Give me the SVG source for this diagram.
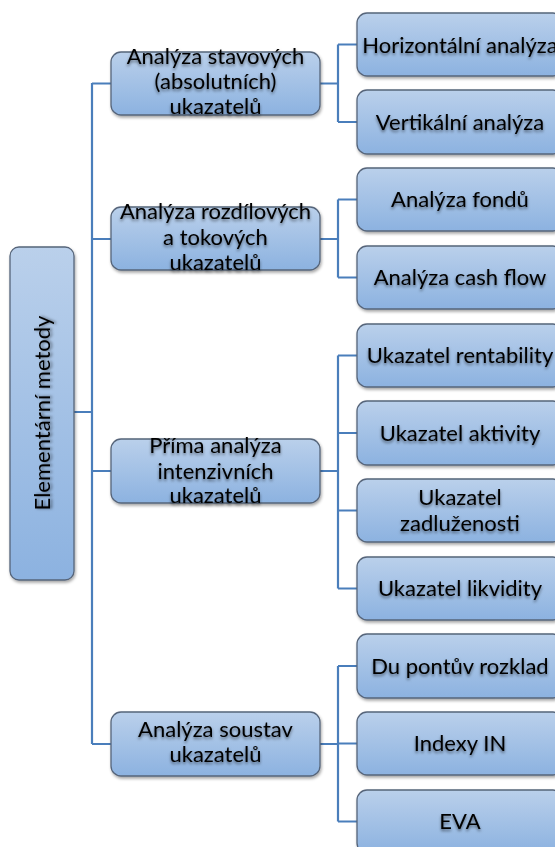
<svg xmlns="http://www.w3.org/2000/svg" width="555" height="847" viewBox="0 0 555 847">
<defs>
<linearGradient id="g" x1="0" y1="0" x2="0" y2="1">
<stop offset="0" stop-color="#bad0eb"/>
<stop offset="1" stop-color="#8cb2e0"/>
</linearGradient>
<filter id="bs" x="-10%" y="-10%" width="125%" height="130%">
<feDropShadow dx="1" dy="2" stdDeviation="1.5" flood-color="#000" flood-opacity="0.35"/>
</filter>
<filter id="ts" x="-10%" y="-20%" width="120%" height="160%">
<feDropShadow dx="0" dy="2" stdDeviation="1.4" flood-color="#000" flood-opacity="0.5"/>
</filter>
</defs>
<style>
.box{fill:url(#g);stroke:#56657a;stroke-width:1.3;filter:url(#bs)}
.t{font-family:Lato,"Liberation Sans",sans-serif;font-size:22px;fill:#000;text-anchor:middle;filter:url(#ts)}
.c{fill:none;stroke:#4a7ebb;stroke-width:2.2}
</style>
<rect width="555" height="847" fill="#fff"/>
<g id="connectors">
<path class="c" d="M74 412H92M92 83V744M92 83.5H111M92 239H111M92 471H111M92 744H111"/>
<path class="c" d="M320 83.5H338M338 44.5V122M338 44.5H357M338 122H357"/>
<path class="c" d="M320 239H338M338 199.5V277.5M338 199.5H357M338 277.5H357"/>
<path class="c" d="M320 471H338M338 355.5V588.5M338 355.5H357M338 433H357M338 510.5H357M338 588.5H357"/>
<path class="c" d="M320 744H338M338 666V821.5M338 666H357M338 743.5H357M338 821.5H357"/>
</g>
<g id="root">
<rect class="box" x="10" y="247" width="64" height="333" rx="9"/>
<text class="t" transform="translate(50 413) rotate(-90)">Elementární metody</text>
</g>
<g id="n1">
<rect class="box" x="111" y="52" width="209" height="63" rx="10"/>
<text class="t" x="215.5" y="64">Analýza stavových</text>
<text class="t" x="215.5" y="89">(absolutních)</text>
<text class="t" x="215.5" y="114">ukazatelů</text>
</g>
<g id="n2">
<rect class="box" x="111" y="207" width="209" height="63" rx="10"/>
<text class="t" x="215.5" y="219">Analýza rozdílových</text>
<text class="t" x="215.5" y="245">a tokových</text>
<text class="t" x="215.5" y="270">ukazatelů</text>
</g>
<g id="n3">
<rect class="box" x="111" y="439" width="209" height="64" rx="10"/>
<text class="t" x="215.5" y="453">Příma analýza</text>
<text class="t" x="215.5" y="479">intenzivních</text>
<text class="t" x="215.5" y="503">ukazatelů</text>
</g>
<g id="n4">
<rect class="box" x="111" y="712" width="209" height="64" rx="10"/>
<text class="t" x="215.5" y="737">Analýza soustav</text>
<text class="t" x="215.5" y="762">ukazatelů</text>
</g>
<g id="c1"><rect class="box" x="357" y="13" width="206" height="63" rx="10"/><text class="t" x="460" y="53">Horizontální analýza</text></g>
<g id="c2"><rect class="box" x="357" y="90" width="206" height="64" rx="10"/><text class="t" x="460" y="130">Vertikální analýza</text></g>
<g id="c3"><rect class="box" x="357" y="168" width="206" height="63" rx="10"/><text class="t" x="460" y="207">Analýza fondů</text></g>
<g id="c4"><rect class="box" x="357" y="246" width="206" height="63" rx="10"/><text class="t" x="460" y="285">Analýza cash flow</text></g>
<g id="c5"><rect class="box" x="357" y="324" width="206" height="63" rx="10"/><text class="t" x="460" y="363">Ukazatel rentability</text></g>
<g id="c6"><rect class="box" x="357" y="401" width="206" height="64" rx="10"/><text class="t" x="460" y="441">Ukazatel aktivity</text></g>
<g id="c7"><rect class="box" x="357" y="479" width="206" height="63" rx="10"/><text class="t" x="460" y="505">Ukazatel</text><text class="t" x="460" y="531">zadluženosti</text></g>
<g id="c8"><rect class="box" x="357" y="557" width="206" height="63" rx="10"/><text class="t" x="460" y="596">Ukazatel likvidity</text></g>
<g id="c9"><rect class="box" x="357" y="634" width="206" height="64" rx="10"/><text class="t" x="460" y="674">Du pontův rozklad</text></g>
<g id="c10"><rect class="box" x="357" y="712" width="206" height="63" rx="10"/><text class="t" x="460" y="751">Indexy IN</text></g>
<g id="c11"><rect class="box" x="357" y="790" width="206" height="63" rx="10"/><text class="t" x="460" y="829">EVA</text></g>
</svg>
